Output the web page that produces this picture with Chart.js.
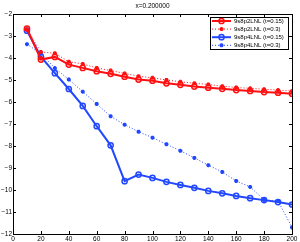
<!DOCTYPE html>
<html>
<head>
<meta charset="utf-8">
<script src="https://cdn.jsdelivr.net/npm/chart.js@4"></script>
<style>
  html, body { margin: 0; padding: 0; background: #fff; }
  #wrap { width: 300px; height: 242px; }
</style>
</head>
<body>
<div id="wrap"><canvas id="c" width="300" height="242"></canvas></div>
<script>
// valores (eje x = 10..200)
const X_VALS = [10, 20, 30, 40, 50, 60, 70, 80, 90, 100, 110, 120, 130, 140, 150, 160, 170, 180, 190, 200];

const P2_T015 = [-2.66, -4.07, -3.95, -4.3, -4.45, -4.6, -4.72, -4.85, -4.98, -5.03, -5.15, -5.22, -5.3, -5.35, -5.4, -5.46, -5.5, -5.55, -5.58, -5.62];
const P2_T03 = [-2.7, -3.73, -3.78, -4.17, -4.27, -4.45, -4.57, -4.7, -4.83, -4.9, -5.0, -5.08, -5.15, -5.2, -5.28, -5.34, -5.38, -5.42, -5.46, -5.5];
const P4_T015 = [-2.76, -3.94, -4.69, -5.41, -6.18, -7.1, -7.97, -9.6, -9.3, -9.45, -9.63, -9.77, -9.9, -10.04, -10.15, -10.27, -10.37, -10.46, -10.55, -10.66];
const P4_T03 = [-3.37, -3.8, -4.46, -4.98, -5.53, -6.09, -6.65, -7.03, -7.35, -7.62, -7.92, -8.22, -8.54, -8.87, -9.18, -9.59, -9.86, -10.45, -10.5, -11.7];

const LABELS = ['9s8p2LNL (t=0.15)', '9s8p2LNL (t=0.3)', '9s8p4LNL (t=0.15)', '9s8p4LNL (t=0.3)'];
const TITULO = 'x=0.200000';
const X_TICKS = [0, 20, 40, 60, 80, 100, 120, 140, 160, 180, 200];
const Y_TICKS = [-2, -3, -4, -5, -6, -7, -8, -9, -10, -11, -12];

const ROJO = '#ff1010';
const AZUL = '#2248ff';
const FUENTE = '"Liberation Sans", Arial, sans-serif';

const puntos = (ys) => X_VALS.map((x, i) => ({ x, y: ys[i] }));

function serie(label, ys, color, punteada) {
  return {
    label,
    data: puntos(ys),
    borderColor: color,
    backgroundColor: color,
    borderWidth: punteada ? 1 : 2,
    borderDash: punteada ? [1, 2] : [],
    pointStyle: punteada ? 'star' : 'circle',
    pointRadius: punteada ? 2 : 2.6,
    pointBorderWidth: 1.5,
    pointBackgroundColor: punteada ? color : 'rgba(0,0,0,0)',
    pointBorderColor: color,
    tension: 0,
  };
}

// caja, ticks hacia adentro, etiquetas, título y leyenda al estilo MATLAB
const estiloMatlab = {
  id: 'estiloMatlab',
  afterDraw(chart) {
    const { ctx, chartArea: a, scales } = chart;
    ctx.save();
    ctx.strokeStyle = '#000';
    ctx.lineWidth = 1;
    ctx.strokeRect(a.left + 0.5, a.top + 0.5, a.right - a.left, a.bottom - a.top);
    ctx.beginPath();
    for (const v of X_TICKS) {
      const px = Math.round(scales.x.getPixelForValue(v)) + 0.5;
      ctx.moveTo(px, a.bottom); ctx.lineTo(px, a.bottom - 3);
      ctx.moveTo(px, a.top); ctx.lineTo(px, a.top + 3);
    }
    for (const v of Y_TICKS) {
      const py = Math.round(scales.y.getPixelForValue(v)) + 0.5;
      ctx.moveTo(a.left, py); ctx.lineTo(a.left + 3, py);
      ctx.moveTo(a.right, py); ctx.lineTo(a.right - 3, py);
    }
    ctx.stroke();

    ctx.fillStyle = '#000';
    ctx.font = '6.5px ' + FUENTE;
    ctx.textBaseline = 'middle';
    ctx.textAlign = 'center';
    for (const v of X_TICKS) ctx.fillText(String(v), scales.x.getPixelForValue(v), a.bottom + 5);
    ctx.textAlign = 'right';
    for (const v of Y_TICKS) ctx.fillText(String(v).replace('-', '\u2212'), a.left - 1, scales.y.getPixelForValue(v));
    ctx.textAlign = 'center';
    ctx.fillText(TITULO, (a.left + a.right) / 2, 6.5);

    // leyenda
    const lx = 210, ly = 17, lw = 78, lh = 32;
    ctx.fillStyle = '#fff';
    ctx.fillRect(lx, ly, lw, lh);
    ctx.strokeStyle = '#000';
    ctx.lineWidth = 1;
    ctx.strokeRect(lx + 0.5, ly + 0.5, lw, lh);
    ctx.font = '6px ' + FUENTE;
    chart.data.datasets.forEach((ds, i) => {
      const y = ly + 4 + i * 8.1;
      ctx.strokeStyle = ds.borderColor;
      ctx.lineWidth = ds.borderWidth;
      ctx.setLineDash(ds.borderDash);
      ctx.beginPath();
      ctx.moveTo(lx + 2, y); ctx.lineTo(lx + 21, y);
      ctx.stroke();
      ctx.setLineDash([]);
      ctx.lineWidth = 1.5;
      ctx.fillStyle = ds.pointBackgroundColor;
      Chart.helpers.drawPoint(ctx, { pointStyle: ds.pointStyle, radius: ds.pointRadius, rotation: 0, borderWidth: 1.5 }, lx + 11.5, y);
      ctx.fillStyle = '#000';
      ctx.textAlign = 'left';
      ctx.fillText(ds.label, lx + 24, y + 0.5);
    });
    ctx.restore();
  },
};

new Chart(document.getElementById('c'), {
  type: 'line',
  data: {
    datasets: [
      serie(LABELS[0], P2_T015, ROJO, false),
      serie(LABELS[1], P2_T03, ROJO, true),
      serie(LABELS[2], P4_T015, AZUL, false),
      serie(LABELS[3], P4_T03, AZUL, true),
    ],
  },
  options: {
    responsive: false,
    animation: false,
    layout: { padding: { top: 14, right: 8, left: 13, bottom: 8 } },
    plugins: { legend: { display: false }, title: { display: false }, tooltip: { enabled: false } },
    scales: {
      x: {
        type: 'linear', min: 0, max: 200,
        grid: { display: false },
        border: { display: false },
        ticks: { display: false },
        afterFit: (s) => { s.height = 0; },
      },
      y: {
        min: -12, max: -2,
        grid: { display: false },
        border: { display: false },
        ticks: { display: false },
        afterFit: (s) => { s.width = 0; },
      },
    },
  },
  plugins: [estiloMatlab],
});
</script>
</body>
</html>
